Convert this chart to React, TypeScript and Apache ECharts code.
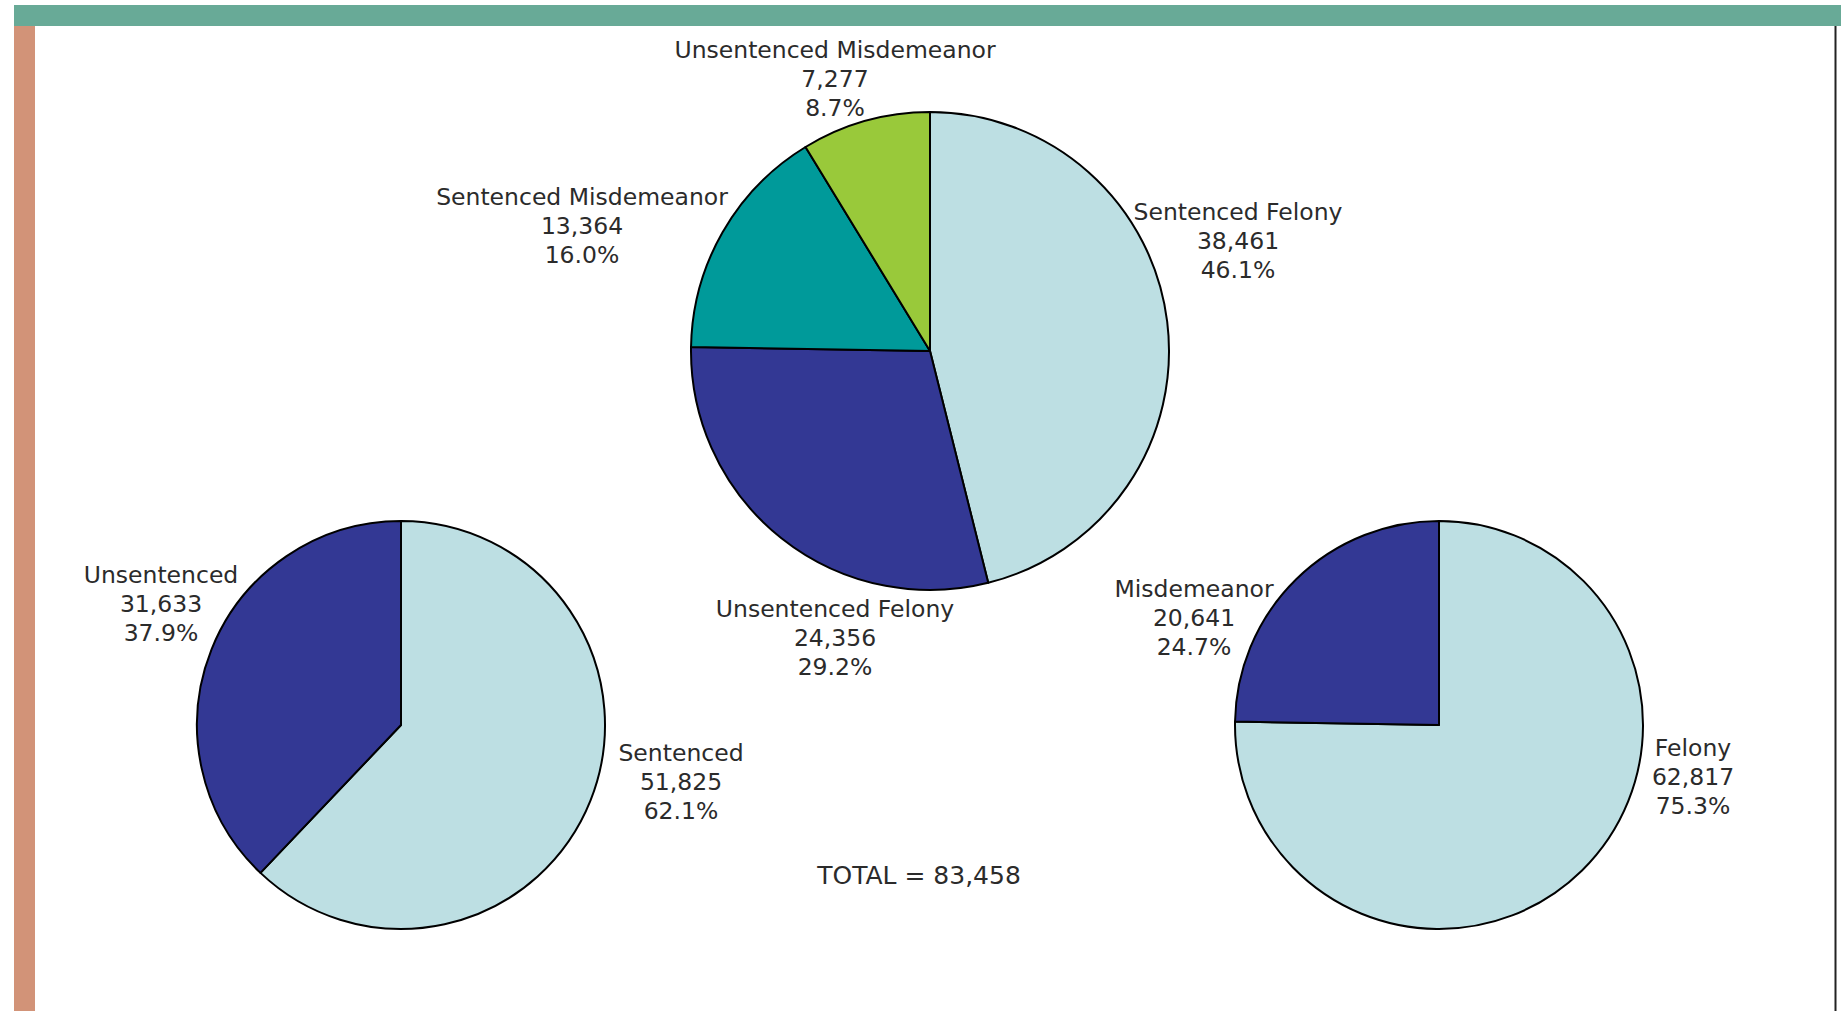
import React, { useEffect, useRef } from "react";
import * as echarts from "echarts";

// ---- Data ----
const detailCategories = ["Sentenced Felony", "Unsentenced Felony", "Sentenced Misdemeanor", "Unsentenced Misdemeanor"];
const detailValues = [38461, 24356, 13364, 7277];
const statusCategories = ["Sentenced", "Unsentenced"];
const statusValues = [51825, 31633];
const chargeCategories = ["Felony", "Misdemeanor"];
const chargeValues = [62817, 20641];
const totalLabel = "TOTAL = 83,458";

// ---- Layout / styles ----
const LIGHT = "#bddfe3";
const DARK = "#333894";
const TEAL = "#009a9a";
const GREEN = "#99c93a";
const detailColors = [LIGHT, DARK, TEAL, GREEN];
const pairColors = [LIGHT, DARK];

const detailLabelPos = [[1238, 241], [835, 638], [582, 226], [835, 79]];
const statusLabelPos = [[681, 782], [161, 604]];
const chargeLabelPos = [[1693, 777], [1194, 618]];

const FONT = "'DejaVu Sans', sans-serif";

function fmt(p: any) {
  const v = Number(p.value).toLocaleString("en-US");
  return `${p.name}\n${v}\n${p.percent.toFixed(1)}%`;
}

function makeSeries(names: string[], values: number[], colors: string[], center: number[], r: number, pos: number[][]) {
  return {
    type: "pie",
    center,
    radius: r,
    startAngle: 90,
    clockwise: true,
    percentPrecision: 2,
    avoidLabelOverlap: false,
    itemStyle: { borderColor: "#000", borderWidth: 2 },
    label: {
      show: true,
      position: "outside",
      formatter: fmt,
      fontFamily: FONT,
      fontSize: 23.5,
      lineHeight: 29,
      color: "#2b2b2b",
      align: "center",
    },
    labelLine: { show: false },
    labelLayout: (p: any) => {
      const [x, y] = pos[p.dataIndex];
      return { x, y, align: "center", verticalAlign: "middle" };
    },
    emphasis: { disabled: true },
    data: names.map((n, i) => ({ name: n, value: values[i], itemStyle: { color: colors[i] } })),
  };
}

export default function App() {
  const ref = useRef<HTMLDivElement>(null);
  useEffect(() => {
    document.body.style.margin = "0";
    document.body.style.overflow = "hidden";
    const chart = echarts.init(ref.current!, null, { renderer: "svg" });
    chart.setOption({
      animation: false,
      backgroundColor: "#fff",
      graphic: [
        { type: "rect", shape: { x: 14, y: 5, width: 1827, height: 21 }, style: { fill: "#68aa97" }, z: 10 },
        { type: "rect", shape: { x: 14, y: 26, width: 21, height: 985 }, style: { fill: "#d29378" }, z: 10 },
        { type: "rect", shape: { x: 1834.5, y: 26, width: 2, height: 985 }, style: { fill: "#222" }, z: 10 },
        {
          type: "text",
          x: 919,
          y: 875,
          style: {
            text: totalLabel,
            font: `25px ${FONT}`,
            fill: "#2b2b2b",
            align: "center",
            verticalAlign: "middle",
          },
        },
      ],
      series: [
        makeSeries(detailCategories, detailValues, detailColors, [930, 351], 239, detailLabelPos),
        makeSeries(statusCategories, statusValues, pairColors, [401, 725], 204, statusLabelPos),
        makeSeries(chargeCategories, chargeValues, pairColors, [1439, 725], 204, chargeLabelPos),
      ],
    });
    return () => chart.dispose();
  }, []);
  return <div ref={ref} style={{ width: 1841, height: 1011 }} />;
}
